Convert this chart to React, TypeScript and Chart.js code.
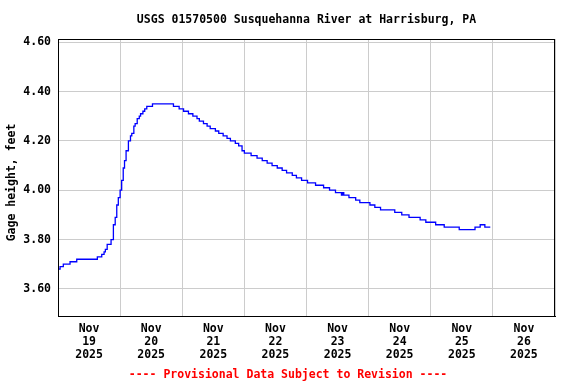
import React, { useEffect, useRef } from "react";
import { Chart, registerables } from "chart.js";

Chart.register(...registerables);

// Hours since Nov 19 2025 00:00 at which the gage height changes
const hoursSinceNov19 = [
  0, 0.8, 2.05, 4.65, 7.24, 15.2, 16.9, 17.8, 18.3, 19.0, 20.5, 21.4, 22.1, 22.7, 23.3,
  24.0, 24.6, 25.2, 25.7, 26.3, 27.2, 28.0, 28.5, 29.3, 29.8, 30.6, 31.4, 31.9, 32.8,
  33.5, 34.3, 36.5, 44.6, 46.8, 48.5, 50.4, 52.1, 53.7, 54.6, 56.2, 57.6, 58.8, 60.8,
  62.1, 63.8, 65.3, 66.6, 68.5, 69.8, 71.1, 72.0, 74.6, 76.9, 78.9, 80.8, 82.7, 84.7,
  86.6, 88.3, 90.5, 92.1, 94.1, 96.4, 99.5, 102.6, 104.9, 107.2, 109.5, 109.9, 110.4,
  112.4, 115.0, 116.6, 120.5, 122.4, 124.6, 130.1, 132.8, 135.6, 139.9, 142.1, 145.9,
  149.2, 155.0, 161.1, 163.1, 164.9, 167.0,
];
// Gage height, feet
const gageHeight = [
  3.68, 3.69, 3.7, 3.71, 3.72, 3.73, 3.74, 3.75, 3.76, 3.78, 3.8, 3.86, 3.89, 3.94, 3.97,
  4.0, 4.04, 4.09, 4.12, 4.16, 4.2, 4.22, 4.23, 4.26, 4.27, 4.29, 4.3, 4.31, 4.32,
  4.33, 4.34, 4.35, 4.34, 4.33, 4.32, 4.31, 4.3, 4.29, 4.28, 4.27, 4.26, 4.25, 4.24,
  4.23, 4.22, 4.21, 4.2, 4.19, 4.18, 4.16, 4.15, 4.14, 4.13, 4.12, 4.11, 4.1, 4.09,
  4.08, 4.07, 4.06, 4.05, 4.04, 4.03, 4.02, 4.01, 4.0, 3.99, 3.98, 3.99, 3.98,
  3.97, 3.96, 3.95, 3.94, 3.93, 3.92, 3.91, 3.9, 3.89, 3.88, 3.87, 3.86,
  3.85, 3.84, 3.85, 3.86, 3.85, 3.85,
];

const yTicks = [3.6, 3.8, 4.0, 4.2, 4.4, 4.6];
const dayLabels = ["19", "20", "21", "22", "23", "24", "25", "26"];
const monthLabel = "Nov";
const yearLabel = "2025";
const titleText = "USGS 01570500 Susquehanna River at Harrisburg, PA";
const yAxisTitle = "Gage height, feet";
const footerText = "---- Provisional Data Subject to Revision ----";

const FAMILY = '"DejaVu Sans Mono", "Liberation Mono", monospace';
const SIZE = 11.5;

const textPlugin = {
  id: "usgsText",
  afterDraw(chart: any) {
    const { ctx, chartArea } = chart;
    ctx.save();
    ctx.strokeStyle = "#000000";
    ctx.lineWidth = 1;
    ctx.strokeRect(
      Math.round(chartArea.left) + 0.5,
      Math.round(chartArea.top) + 0.5,
      Math.round(chartArea.right - chartArea.left) - 1,
      Math.round(chartArea.bottom - chartArea.top)
    );
    ctx.font = `bold ${SIZE}px ${FAMILY}`;
    ctx.textAlign = "center";
    ctx.textBaseline = "middle";
    ctx.fillStyle = "#000000";
    ctx.fillText(titleText, (chartArea.left + chartArea.right) / 2, 20);
    ctx.fillStyle = "#ff0000";
    ctx.fillText(footerText, chart.width / 2, 375);
    ctx.fillStyle = "#000000";
    ctx.translate(12.5, 182.5);
    ctx.rotate(-Math.PI / 2);
    ctx.fillText(yAxisTitle, 0, 0);
    ctx.restore();
  },
};

export default function App() {
  const canvasRef = useRef<HTMLCanvasElement | null>(null);

  useEffect(() => {
    if (!canvasRef.current) return;
    const points = hoursSinceNov19.map((h, i) => ({ x: h, y: gageHeight[i] }));
    const font = { family: FAMILY, size: SIZE, weight: "bold" as const, lineHeight: 1.13 };
    const chart = new Chart(canvasRef.current, {
      type: "line",
      data: {
        datasets: [
          {
            data: points,
            borderColor: "#0000ff",
            borderWidth: 1.3,
            pointRadius: 0,
            stepped: "before",
            fill: false,
          },
        ],
      },
      options: {
        animation: false,
        responsive: false,
        maintainAspectRatio: false,
        layout: { padding: { top: 39, right: 21, left: 0, bottom: 0 } },
        plugins: {
          legend: { display: false },
          title: { display: false },
          tooltip: { enabled: false },
        },
        scales: {
          x: {
            type: "linear",
            min: 0,
            max: dayLabels.length * 24,
            afterBuildTicks: (scale: any) => {
              const t = [];
              for (let v = 0; v <= dayLabels.length * 24; v += 12) t.push({ value: v });
              scale.ticks = t;
            },
            afterFit: (scale: any) => {
              scale.height = 68;
            },
            grid: {
              color: (c: any) =>
                c.tick && c.tick.value % 24 === 0 ? "#cccccc" : "rgba(0,0,0,0)",
              lineWidth: 1,
              drawTicks: false,
            },
            border: { display: true, color: "#000000" },
            ticks: {
              autoSkip: false,
              maxRotation: 0,
              minRotation: 0,
              padding: 7,
              color: "#000000",
              font,
              callback: (v: any) => {
                const n = Number(v);
                if (n % 24 !== 12) return "";
                const idx = (n - 12) / 24;
                return [monthLabel, dayLabels[idx], yearLabel];
              },
            },
          },
          y: {
            type: "linear",
            min: 3.49,
            max: 4.613,
            afterBuildTicks: (scale: any) => {
              scale.ticks = yTicks.map((v) => ({ value: v }));
            },
            afterFit: (scale: any) => {
              scale.width = 58;
            },
            grid: { color: "#cccccc", lineWidth: 1, drawTicks: false },
            border: { display: true, color: "#000000" },
            ticks: {
              padding: 7,
              color: "#000000",
              font,
              callback: (v: any) => Number(v).toFixed(2),
            },
          },
        },
      },
      plugins: [textPlugin],
    });
    return () => chart.destroy();
  }, []);

  return (
    <div style={{ position: "absolute", left: 0, top: 0, width: 576, height: 384, background: "#fff" }}>
      <canvas ref={canvasRef} width={576} height={384} style={{ display: "block" }} />
    </div>
  );
}
